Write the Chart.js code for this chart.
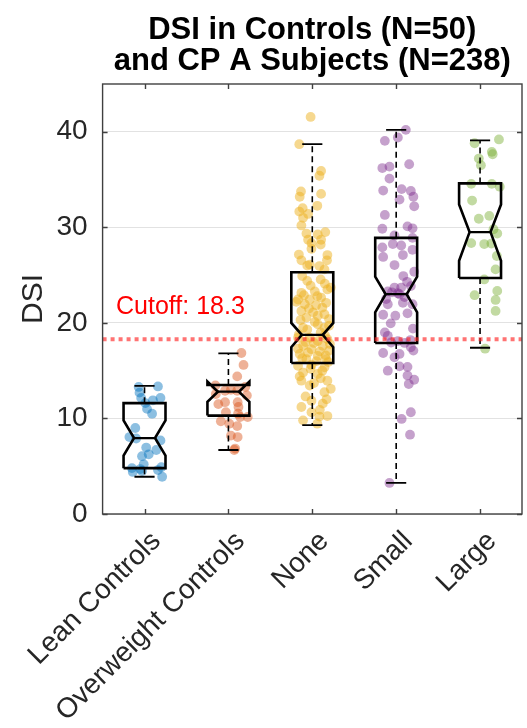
<!DOCTYPE html>
<html>
<head>
<meta charset="utf-8">
<script src="https://cdn.jsdelivr.net/npm/chart.js@4/dist/chart.umd.min.js"></script>
<style>
  html, body { margin: 0; padding: 0; background: #ffffff; }
  canvas { display: block; }
</style>
</head>
<body>
<canvas id="c" width="527" height="728"></canvas>
<script>
// ---------------- DATA ----------------
const categories = ['Lean Controls', 'Overweight Controls', 'None', 'Small', 'Large'];
const titleLines = ['DSI in Controls (N=50)', 'and CP A Subjects (N=238)'];
const yTitle = 'DSI';
const yTicks = [0, 10, 20, 30, 40];
const cutoff = 18.3;
const cutoffLabel = 'Cutoff: 18.3';

// box statistics per category
const q1      = [4.8, 10.3, 15.8, 17.9, 24.7];
const median  = [7.95, 12.8, 18.75, 23.0, 29.5];
const q3      = [11.6, 13.5, 25.3, 28.9, 34.6];
const notchLo = [6.1, 11.75, 17.45, 21.1, 26.5];
const notchHi = [9.8, 13.85, 20.0, 24.85, 32.4];
const whiskLo = [3.9, 6.7, 9.3, 3.25, 17.4];
const whiskHi = [13.4, 16.8, 38.7, 40.2, 39.1];

// individual subject values (y) and horizontal jitter
const leanVals = [13.3,13.35,12.7,12.15,12.15,11.6,11.0,10.5,9.0,8.05,7.9,7.7,6.95,6.7,6.25,6.05,5.2,4.9,4.8,4.7,4.4,4.5,3.9,4.6,11.9];
const leanJit  = [-0.07,0.16,-0.06,-0.04,0.19,0.01,0.03,0.09,-0.11,-0.18,-0.10,0.19,0.02,0.14,0.05,-0.03,-0.01,0.2,-0.15,-0.05,-0.14,-0.03,0.21,0.16,0.1];

const owVals = [16.85,15.6,14.4,13.45,13.0,12.9,12.9,11.7,11.7,11.2,10.65,10.5,10.15,10.15,9.7,9.45,9.2,8.2,8.05,6.85,6.7,12.55,12.4,13.3,11.5];
const owJit  = [0.155,0.18,0.105,-0.155,0.03,-0.04,0.105,-0.04,0.11,0.12,-0.03,0.115,0.14,0.23,-0.09,0.01,0.105,0.03,0.11,0.08,0.07,-0.15,0.22,0.2,-0.12];

const noneVals = [41.55,38.7,35.9,35.4,33.75,33.2,33.5,32.25,32.0,31.65,31.4,31.0,30.2,29.35,29.5,29.25,28.7,28.7,28.35,28.2,27.75,27.15,27.1,26.55,26.55,26.1,25.95,25.6,26.0,
  24.4,24.55,23.7,23.15,23.3,22.45,22.45,22.65,21.95,21.85,22.1,21.25,21.1,20.9,20.75,20.55,20.4,19.85,19.5,19.5,18.45,18.45,18.3,18.1,17.6,17.6,17.25,17.1,16.75,16.55,16.2,16.2,15.5,15.6,15.35,14.8,14.65,13.95,13.95,13.45,13.1,12.75,11.85,11.55,10.65,10.25,10.2,9.8,9.45,
  24.9,24.1,23.9,23.5,22.9,22.8,22.2,21.6,21.5,20.3,20.1,19.7,19.3,19.0,18.8,18.7,18.0,17.9,17.8,17.3,17.0,16.9,16.6,16.3,16.0,15.9,15.2,15.0,14.4,14.2,13.7,12.3,12.0,11.2,10.9];
const noneJit = [-0.02,-0.155,0.105,0.085,-0.135,-0.15,0.105,0.06,-0.115,-0.155,-0.05,-0.11,-0.13,-0.07,0.155,0.065,-0.05,0.105,-0.01,0.1,-0.01,-0.16,0.18,-0.13,0.175,-0.03,0.085,0.145,-0.06,
  -0.06,0.1,0.22,-0.13,0.03,-0.17,-0.03,0.105,-0.09,0.045,0.165,-0.13,0.01,0.145,0.065,-0.07,0.2,0.065,-0.11,0.145,-0.17,-0.03,0.18,0.065,-0.11,0.125,-0.01,0.2,-0.15,0.065,-0.07,0.165,-0.17,-0.01,0.145,-0.11,0.065,-0.13,0.18,-0.03,0.22,0.145,-0.01,0.125,-0.01,0.18,0.085,-0.11,0.06,
  -0.12,0.15,-0.02,0.18,-0.1,0.06,-0.19,0.12,-0.04,-0.14,0.03,0.2,-0.06,0.1,-0.16,0.15,-0.08,0.02,0.21,-0.17,0.09,-0.05,0.16,-0.12,0.05,0.19,-0.02,0.12,-0.15,0.1,0.02,-0.08,0.17,-0.13,0.09];

const smallVals = [40.2,39.05,39.4,36.2,36.35,36.6,35.1,33.85,34.0,33.8,33.2,32.9,32.2,31.3,29.85,30.1,29.9,29.15,28.9,28.25,28.1,27.9,27.65,27.1,26.9,26.05,25.35,24.9,23.7,23.7,23.85,23.3,23.1,
  21.95,22.1,21.95,20.85,20.75,21.0,19.95,19.0,18.65,17.45,17.1,16.85,16.75,16.4,15.45,15.0,15.4,14.5,14.05,13.6,10.65,9.95,8.3,3.25,
  23.2,23.0,22.7,22.5,24.3,18.2,17.9,17.95,18.1,19.4];
const smallJit = [0.115,-0.135,0.02,-0.165,-0.08,0.155,-0.08,-0.155,0.065,0.175,0.205,0.04,0.215,-0.135,-0.165,0.135,0.195,-0.02,0.195,-0.04,0.06,-0.165,0.195,0.08,-0.155,-0.02,0.215,0.085,-0.02,0.06,0.175,-0.1,0.02,
  -0.1,0.08,0.195,-0.155,-0.01,0.135,-0.065,-0.135,-0.1,0.175,0.205,-0.155,0.04,-0.02,0.04,-0.1,0.135,0.135,0.215,0.15,0.175,0.065,0.165,-0.08,
  -0.05,0.04,0.1,-0.12,0.13,0.17,0.1,-0.06,0.02,0.2];

const largeVals = [39.2,38.8,37.9,37.65,37.2,36.5,34.55,34.55,34.25,32.8,30.9,31.2,29.35,28.35,28.25,28.3,25.6,24.55,22.9,23.35,22.4,21.25,17.3,29.8,27.0];
const largeJit  = [0.225,-0.065,0.14,0.15,-0.015,0.01,-0.105,0.14,0.235,-0.095,-0.015,0.11,0.205,-0.105,0.05,0.135,0.185,0.05,-0.065,0.205,0.185,0.185,0.06,0.16,0.2];

const groupVals = [leanVals, owVals, noneVals, smallVals, largeVals];
const groupJit  = [leanJit, owJit, noneJit, smallJit, largeJit];

// ---------------- STYLE ----------------
const FONT = '"Liberation Sans", Arial, Helvetica, sans-serif';
const pointColors = ['rgba(0,114,189,0.45)', 'rgba(217,83,25,0.45)', 'rgba(237,177,32,0.5)', 'rgba(126,47,142,0.45)', 'rgba(119,172,48,0.45)'];
const BOX_HALF = 0.25, NOTCH_HALF = 0.125, CAP_HALF = 0.12;

const datasets = [];
datasets.push({
  data: [{x: 0.5, y: cutoff}, {x: 5.5, y: cutoff}],
  showLine: true, borderColor: 'rgba(255,40,40,0.65)', borderWidth: 4, borderDash: [4, 4],
  pointRadius: 0, order: 0
});
categories.forEach((c, k) => {
  const i = k + 1;
  datasets.push({
    data: [
      {x: i - BOX_HALF, y: q1[k]}, {x: i + BOX_HALF, y: q1[k]}, {x: i + BOX_HALF, y: notchLo[k]},
      {x: i + NOTCH_HALF, y: median[k]}, {x: i + BOX_HALF, y: notchHi[k]}, {x: i + BOX_HALF, y: q3[k]},
      {x: i - BOX_HALF, y: q3[k]}, {x: i - BOX_HALF, y: notchHi[k]}, {x: i - NOTCH_HALF, y: median[k]},
      {x: i - BOX_HALF, y: notchLo[k]}, {x: i - BOX_HALF, y: q1[k]}
    ],
    showLine: true, borderColor: '#000', borderWidth: 2.6, borderJoinStyle: 'miter', pointRadius: 0, order: 1
  });
  datasets.push({
    data: [{x: i - NOTCH_HALF, y: median[k]}, {x: i + NOTCH_HALF, y: median[k]}],
    showLine: true, borderColor: '#000', borderWidth: 2.2, pointRadius: 0, order: 1
  });
  datasets.push({
    data: [{x: i, y: q3[k]}, {x: i, y: whiskHi[k]}],
    showLine: true, borderColor: '#000', borderWidth: 1.6, borderDash: [6, 4], pointRadius: 0, order: 2
  });
  datasets.push({
    data: [{x: i, y: q1[k]}, {x: i, y: whiskLo[k]}],
    showLine: true, borderColor: '#000', borderWidth: 1.6, borderDash: [6, 4], pointRadius: 0, order: 2
  });
  datasets.push({
    data: [{x: i - CAP_HALF, y: whiskHi[k]}, {x: i + CAP_HALF, y: whiskHi[k]}],
    showLine: true, borderColor: '#000', borderWidth: 1.8, pointRadius: 0, order: 2
  });
  datasets.push({
    data: [{x: i - CAP_HALF, y: whiskLo[k]}, {x: i + CAP_HALF, y: whiskLo[k]}],
    showLine: true, borderColor: '#000', borderWidth: 1.8, pointRadius: 0, order: 2
  });
  datasets.push({
    data: groupVals[k].map((v, j) => ({x: i + groupJit[k][j], y: v})),
    showLine: false, pointRadius: 4.9, pointBorderWidth: 0,
    pointBackgroundColor: pointColors[k], borderColor: 'rgba(0,0,0,0)', order: 5
  });
});

const framePlugin = {
  id: 'frame',
  afterDatasetsDraw(chart) {
    const {ctx, scales: {x, y}} = chart;
    ctx.save();
    ctx.fillStyle = '#ff0000';
    ctx.font = '25px ' + FONT;
    ctx.textBaseline = 'alphabetic';
    ctx.textAlign = 'left';
    ctx.fillText(cutoffLabel, x.getPixelForValue(0.66), y.getPixelForValue(20.9));
    ctx.restore();
  },
  afterDraw(chart) {
    const {ctx, chartArea: a, scales: {x, y}} = chart;
    ctx.save();
    ctx.strokeStyle = '#404040';
    ctx.lineWidth = 1.4;
    ctx.strokeRect(a.left, a.top, a.right - a.left, a.bottom - a.top);
    ctx.beginPath();
    x.ticks.forEach(t => {
      const px = Math.round(x.getPixelForValue(t.value)) + 0.5;
      ctx.moveTo(px, a.bottom); ctx.lineTo(px, a.bottom - 5);
      ctx.moveTo(px, a.top); ctx.lineTo(px, a.top + 5);
    });
    y.ticks.forEach(t => {
      const py = Math.round(y.getPixelForValue(t.value)) + 0.5;
      ctx.moveTo(a.left, py); ctx.lineTo(a.left + 5, py);
      ctx.moveTo(a.right, py); ctx.lineTo(a.right - 5, py);
    });
    ctx.stroke();
    ctx.restore();
  }
};

new Chart(document.getElementById('c'), {
  type: 'scatter',
  data: { datasets },
  plugins: [framePlugin],
  options: {
    responsive: false,
    animation: false,
    events: [],
    layout: { padding: { left: 0, right: 5, top: 0, bottom: 0 } },
    plugins: {
      legend: { display: false },
      tooltip: { enabled: false },
      title: {
        display: true, text: titleLines, fullSize: false, color: '#000',
        font: { family: FONT, size: 31, weight: 'bold', lineHeight: 1.0 },
        padding: { top: 15, bottom: 7 }
      }
    },
    scales: {
      x: {
        type: 'linear', min: 0.5, max: 5.5,
        afterBuildTicks: ax => { ax.ticks = categories.map((c, i) => ({ value: i + 1 })); },
        afterFit: s => { s.height = 214; },
        grid: { display: false, drawTicks: false },
        border: { display: false },
        ticks: {
          autoSkip: false, minRotation: 45, maxRotation: 45, padding: 11, labelOffset: 12,
          color: '#262626', font: { family: FONT, size: 28 },
          callback: (v, idx) => categories[idx]
        }
      },
      y: {
        type: 'linear', min: 0, max: 45,
        afterBuildTicks: ax => { ax.ticks = yTicks.map(v => ({ value: v })); },
        afterFit: s => { s.width = 96; },
        grid: { color: '#e2e2e2', lineWidth: 1, drawTicks: false },
        border: { display: false },
        ticks: { padding: 15, color: '#262626', font: { family: FONT, size: 28 } },
        title: { display: true, text: yTitle, color: '#262626', font: { family: FONT, size: 30 }, padding: { top: 9, bottom: 0 } }
      }
    }
  }
});
</script>
</body>
</html>
